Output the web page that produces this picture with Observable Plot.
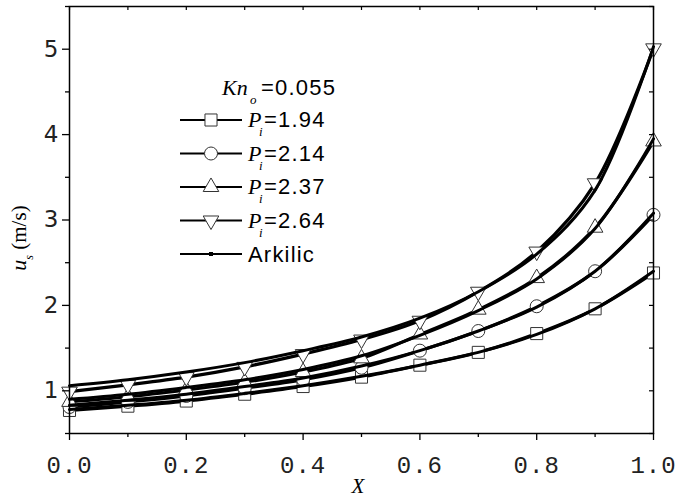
<!DOCTYPE html>
<html><head><meta charset="utf-8">
<script src="https://cdn.jsdelivr.net/npm/d3@7"></script>
<script src="https://cdn.jsdelivr.net/npm/@observablehq/plot@0.6"></script>
<style>body{margin:0;background:#fff}#chart{position:relative;width:680px;height:497px}</style>
</head><body><div id="chart"></div>
<script>
// ---- data ----
const xs = [0, 0.1, 0.2, 0.3, 0.4, 0.5, 0.6, 0.7, 0.8, 0.9, 1.0];
const p194 = [0.77, 0.82, 0.88, 0.96, 1.05, 1.16, 1.30, 1.45, 1.67, 1.96, 2.38];
const p214 = [0.81, 0.87, 0.94, 1.03, 1.13, 1.27, 1.47, 1.70, 1.99, 2.40, 3.06];
const p237 = [0.87, 0.93, 1.01, 1.10, 1.22, 1.38, 1.66, 1.95, 2.32, 2.91, 3.92];
const p264 = [0.99, 1.07, 1.16, 1.28, 1.43, 1.60, 1.82, 2.16, 2.63, 3.43, 5.01];
const ark194 = [0.78, 0.83, 0.89, 0.97, 1.06, 1.17, 1.30, 1.45, 1.66, 1.96, 2.40];
const ark214 = [0.83, 0.89, 0.96, 1.05, 1.15, 1.29, 1.47, 1.70, 1.98, 2.40, 3.08];
const ark237 = [0.90, 0.96, 1.04, 1.13, 1.25, 1.41, 1.65, 1.94, 2.31, 2.90, 3.95];
const ark264 = [1.06, 1.13, 1.22, 1.33, 1.47, 1.63, 1.85, 2.16, 2.60, 3.35, 5.03];
const piLabels = ["1.94", "2.14", "2.37", "2.64"];
const knLabel = "0.055";
const arkLabel = "Arkilic";
const xMajor = [0, 0.2, 0.4, 0.6, 0.8, 1.0];
const xMinor = [0.1, 0.3, 0.5, 0.7, 0.9];
const yMajor = [1, 2, 3, 4, 5];
const yMinor = [0.5, 1.5, 2.5, 3.5, 4.5, 5.5];

// ---- build ----
const triDown = {
  draw(ctx, size) {
    const y = -Math.sqrt(size / (Math.sqrt(3) * 3));
    ctx.moveTo(0, -y * 2);
    ctx.lineTo(-Math.sqrt(3) * y, y);
    ctx.lineTo(Math.sqrt(3) * y, y);
    ctx.closePath();
  }
};
const sims = [p194, p214, p237, p264];
const arks = [ark194, ark214, ark237, ark264];
const symbols = ["square", "circle", "triangle", triDown];
const d3Symbols = [d3.symbolSquare, d3.symbolCircle, d3.symbolTriangle, triDown];
const radii = [6.8, 6.5, 5.8, 5.8];
const toRows = (arr) => arr.map((v, i) => ({x: xs[i], y: v}));

const marks = [];
sims.forEach((s) => marks.push(Plot.line(toRows(s), {x: "x", y: "y", stroke: "black", strokeWidth: 3.2, curve: "catmull-rom"})));
sims.forEach((s, k) => marks.push(Plot.dot(toRows(s), {x: "x", y: "y", symbol: symbols[k], r: radii[k], fill: "white", stroke: "#333", strokeWidth: 1})));
arks.forEach((s) => marks.push(Plot.line(toRows(s), {x: "x", y: "y", stroke: "black", strokeWidth: 3, curve: "catmull-rom"})));

const W = 680, H = 497, mL = 69, mR = 27, mT = 6, mB = 64;
const fw = W - mL - mR, fh = H - mT - mB;

const chart = Plot.plot({
  width: W, height: H, marginLeft: mL, marginRight: mR, marginTop: mT, marginBottom: mB,
  x: {domain: [0, 1]},
  y: {domain: [0.5, 5.5]},
  style: {background: "white", color: "black"},
  marks: [
    ...marks,
    Plot.frame({stroke: "black", strokeWidth: 1.5}),
    Plot.axisX(xMajor, {tickSize: 7, tickPadding: 15, tickFormat: d => d.toFixed(1), label: null, strokeWidth: 1.3}),
    Plot.axisX(xMinor, {tickSize: 4, tickFormat: () => "", label: null, strokeWidth: 1.3}),
    Plot.axisY(yMajor, {tickSize: 7, tickPadding: 4, tickFormat: d => String(d), label: null, strokeWidth: 1.3}),
    Plot.axisY(yMinor, {tickSize: 4, tickFormat: () => "", label: null, strokeWidth: 1.3}),
    Plot.tickX([...xMajor, ...xMinor], {x: d => d, insetBottom: fh - 4, stroke: "black", strokeWidth: 1.2}),
    Plot.tickY([...yMajor, ...yMinor], {y: d => d, insetLeft: fw - 4, stroke: "black", strokeWidth: 1.2})
  ]
});
document.getElementById("chart").appendChild(chart);

const svg = d3.select(chart);
svg.selectAll('g[aria-label="x-axis tick label"] text')
  .style("font-family", "'Liberation Mono', monospace").style("font-size", "24px").style("letter-spacing", "1px").attr("fill", "#222");
svg.selectAll('g[aria-label="y-axis tick label"] text')
  .style("font-family", "'DejaVu Sans', sans-serif").style("font-size", "23px").attr("fill", "#222");

// axis titles
const serif = "'Liberation Serif', 'Times New Roman', serif";
const sans = "'Liberation Sans', Arial, sans-serif";
const yl = svg.append("text").attr("transform", "translate(26,238) rotate(-90)")
  .attr("text-anchor", "middle").attr("font-family", serif).style("font-family", serif);
yl.append("tspan").style("font-family", serif).style("font-style", "italic").style("font-size", "22px").text("u");
yl.append("tspan").style("font-family", serif).style("font-style", "italic").style("font-size", "12px").attr("dy", 7).text("s");
yl.append("tspan").style("font-family", serif).style("font-size", "21px").attr("dy", -7).text(" (m/s)");
svg.append("text").attr("x", 358).attr("y", 493).attr("text-anchor", "middle")
  .style("font-family", serif).style("font-style", "italic").style("font-size", "21px").text("X");

// legend
const lg = svg.append("g").attr("text-anchor", "start");
lg.append("text").attr("x", 222).attr("y", 95).style("font-family", serif).style("font-style", "italic").style("font-size", "22px").text("Kn");
lg.append("text").attr("x", 250).attr("y", 104).style("font-family", serif).style("font-style", "italic").style("font-size", "13px").text("o");
lg.append("text").attr("x", 261).attr("y", 95).style("font-family", sans).style("font-size", "22px").style("letter-spacing", "1.2px").text("=" + knLabel);
const rowY = [120, 153.5, 187, 220.5, 254];
const sym = d3.symbol();
piLabels.forEach((lab, k) => {
  const cy = rowY[k];
  lg.append("line").attr("x1", 180).attr("x2", 242).attr("y1", cy).attr("y2", cy).attr("stroke", "black").attr("stroke-width", 2);
  lg.append("path").attr("transform", `translate(211,${cy})`)
    .attr("d", sym.type(d3Symbols[k]).size(Math.PI * radii[k] * radii[k])())
    .attr("fill", "white").attr("stroke", "#333").attr("stroke-width", 1);
  lg.append("text").attr("x", 248).attr("y", cy + 7).style("font-family", serif).style("font-style", "italic").style("font-size", "22px").text("P");
  lg.append("text").attr("x", 259).attr("y", cy + 16).style("font-family", serif).style("font-style", "italic").style("font-size", "13px").text("i");
  lg.append("text").attr("x", 264).attr("y", cy + 7).style("font-family", sans).style("font-size", "22px").style("letter-spacing", "1.2px").text("=" + lab);
});
{
  const cy = rowY[4];
  lg.append("line").attr("x1", 180).attr("x2", 242).attr("y1", cy).attr("y2", cy).attr("stroke", "black").attr("stroke-width", 2);
  lg.append("rect").attr("x", 209).attr("y", cy - 2).attr("width", 4).attr("height", 4).attr("fill", "black");
  lg.append("text").attr("x", 248).attr("y", cy + 8).style("font-family", sans).style("font-size", "22px").style("letter-spacing", "1.2px").text(arkLabel);
}
</script>
</body></html>
